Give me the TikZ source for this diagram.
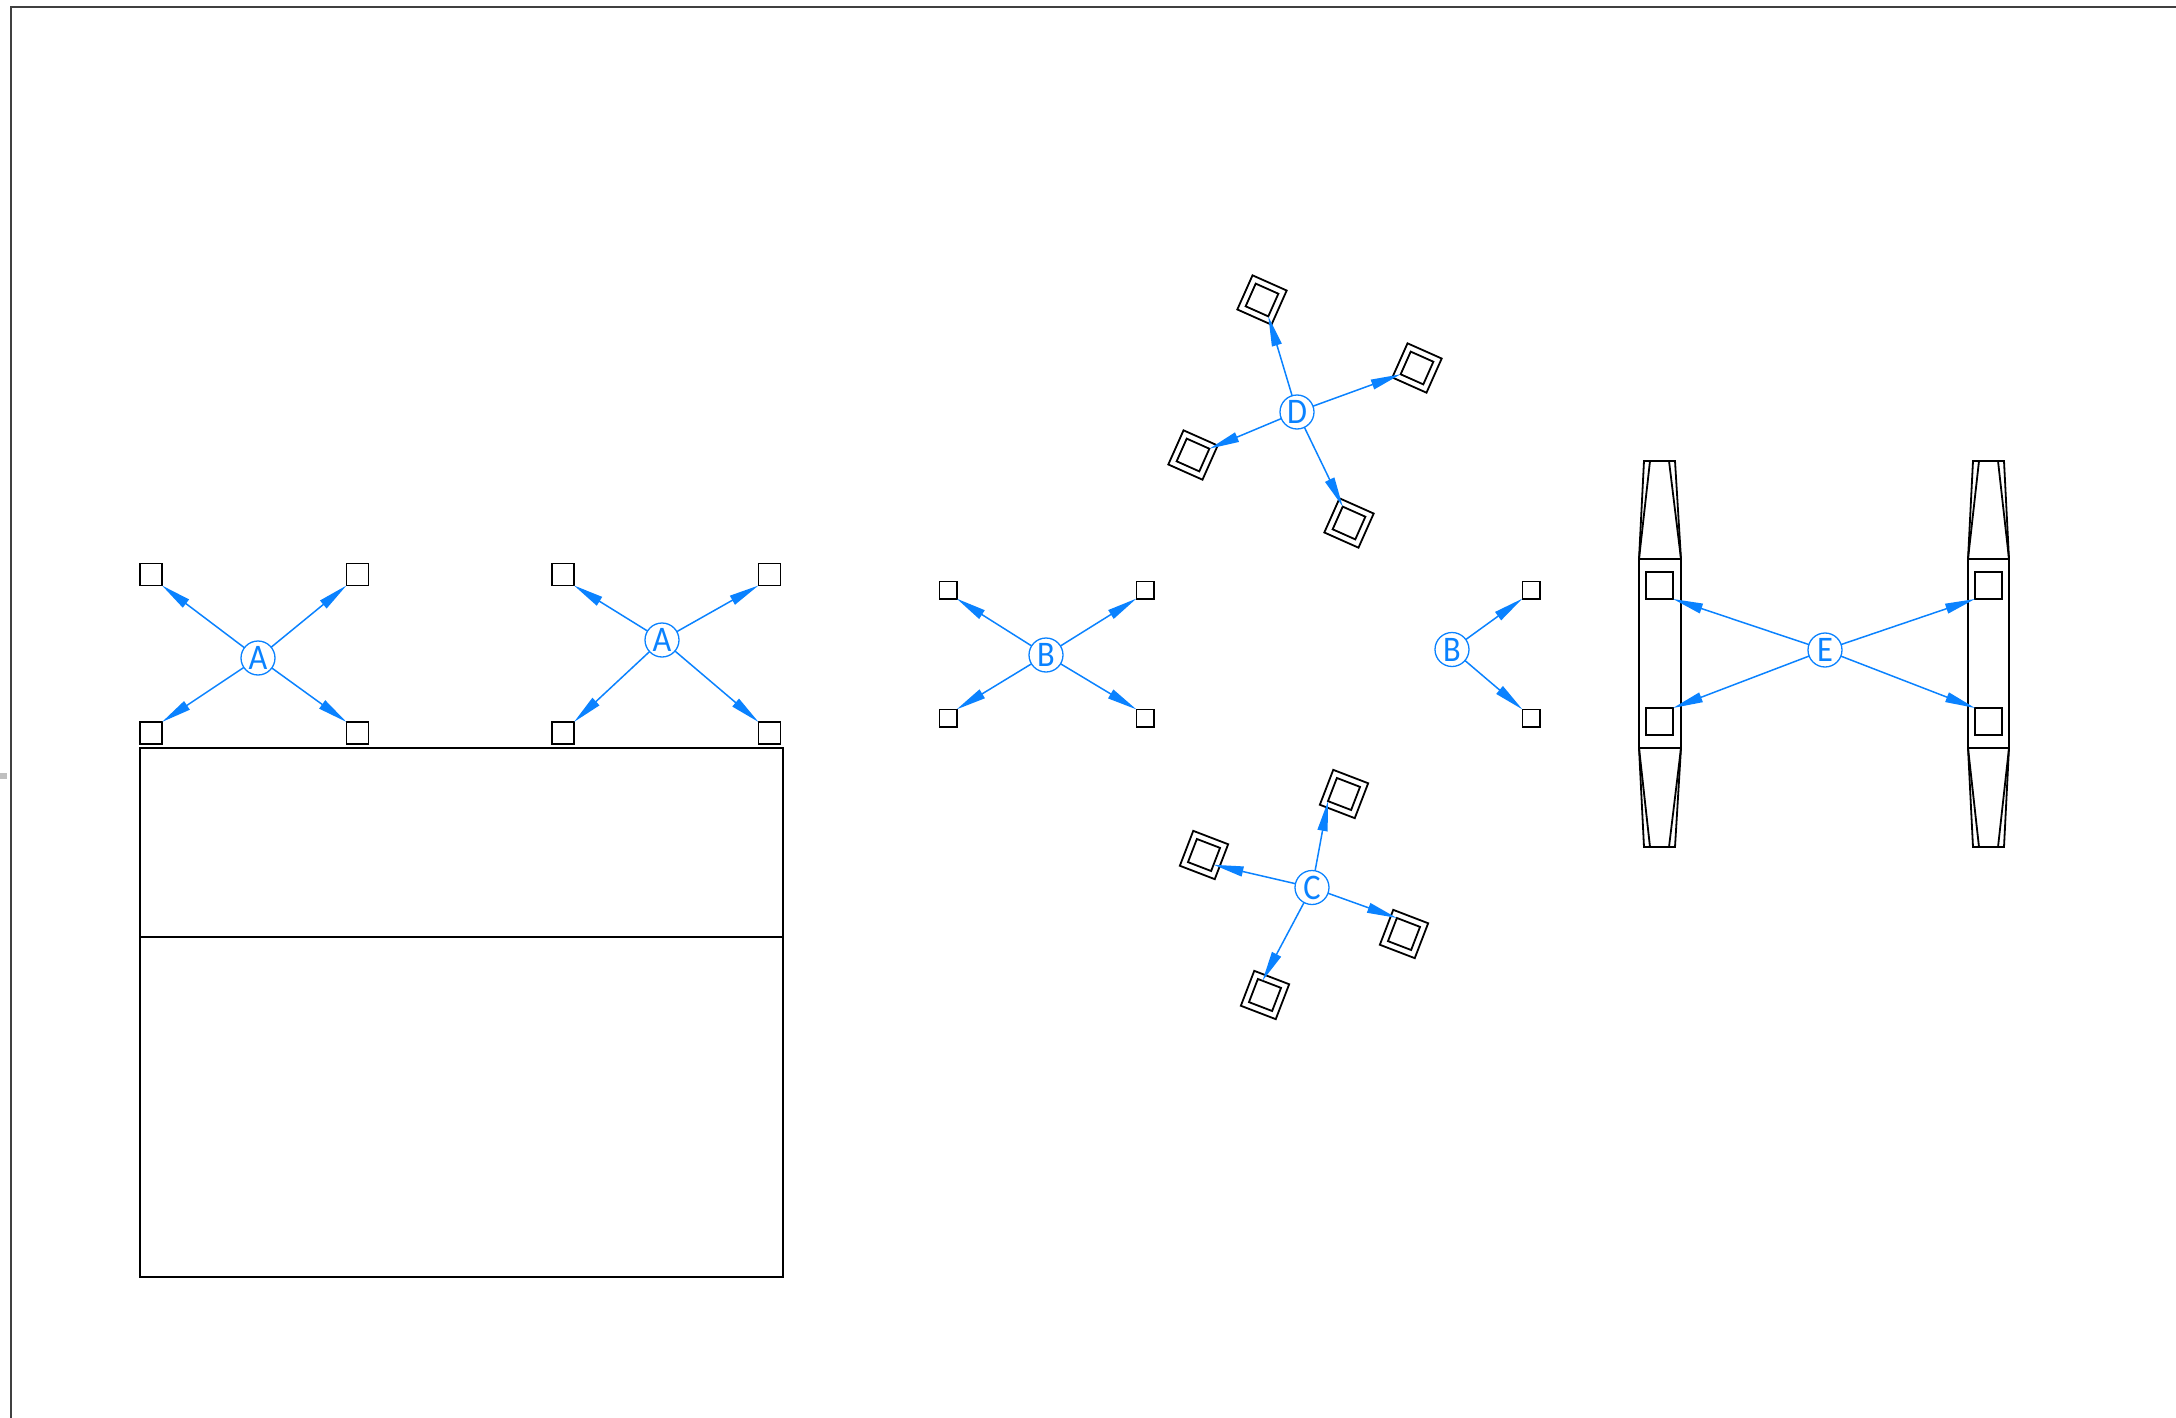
\documentclass[tikz,border=0pt]{standalone}
\usepackage{fontspec}
\newfontfamily\lblfont[FakeStretch=0.9]{Carlito}
\usetikzlibrary{arrows.meta,calc}
\definecolor{cadblue}{RGB}{10,130,255}
\tikzset{
  x=0.5pt,y=-0.5pt,
  black line/.style={draw=black,line width=0.9pt},
  hub/.style={circle,draw=cadblue,line width=0.65pt,minimum size=17pt,inner sep=0pt,outer sep=0pt,text=cadblue,font=\lblfont\fontsize{18}{18}\selectfont},
  sqbig/.style={rectangle,black line,minimum size=11pt,inner sep=0pt,outer sep=0pt},
  sqsmall/.style={rectangle,black line,minimum size=8.6pt,inner sep=0pt,outer sep=0pt},
  sqpad/.style={rectangle,black line,minimum size=13.5pt,inner sep=0pt,outer sep=0pt},
  outerrot/.style={rectangle,black line,minimum size=18.7pt,inner sep=0pt,outer sep=0pt,rotate=#1},
  innerrot/.style={rectangle,black line,minimum size=12.4pt,inner sep=0pt,outer sep=0pt,rotate=#1},
  conn/.style={draw=cadblue,line width=0.75pt,-{Triangle[length=15pt,width=5pt,fill=cadblue]}},
}
\begin{document}
\begin{tikzpicture}
\useasboundingbox (0,0) rectangle (2176,1418);
% sheet frame
\draw[draw=black!75,line width=1pt] (11,1418) -- (11,7) -- (2176,7);
\fill[black!25] (0,773) rectangle (7,779);
% large block
\draw[black line] (140,748) rectangle (783,1277);
\draw[black line] (140,937) -- (783,937);
% group A left
\node[hub] (A1) at (258,658) {A};
\node[sqbig] (a1a) at (151,574.5) {};
\node[sqbig] (a1b) at (357.5,574.5) {};
\node[sqbig] (a1c) at (151,733) {};
\node[sqbig] (a1d) at (357.5,733) {};
\draw[conn] (A1) -- (a1a.south east);
\draw[conn] (A1) -- (a1b.south west);
\draw[conn] (A1) -- (a1c.north east);
\draw[conn] (A1) -- (a1d.north west);
% group A right
\node[hub] (A2) at (662,640) {A};
\node[sqbig] (a2a) at (563,574.5) {};
\node[sqbig] (a2b) at (769.5,574.5) {};
\node[sqbig] (a2c) at (563,733) {};
\node[sqbig] (a2d) at (769.5,733) {};
\draw[conn] (A2) -- (a2a.south east);
\draw[conn] (A2) -- (a2b.south west);
\draw[conn] (A2) -- (a2c.north east);
\draw[conn] (A2) -- (a2d.north west);
% group B left
\node[hub] (B1) at (1046,655) {B};
\node[sqsmall] (b1a) at (948,590) {};
\node[sqsmall] (b1b) at (1145,590) {};
\node[sqsmall] (b1c) at (948,718) {};
\node[sqsmall] (b1d) at (1145,718) {};
\draw[conn] (B1) -- (b1a.south east);
\draw[conn] (B1) -- (b1b.south west);
\draw[conn] (B1) -- (b1c.north east);
\draw[conn] (B1) -- (b1d.north west);
% group B right
\node[hub] (B2) at (1452,649.5) {B};
\node[sqsmall] (b2a) at (1531,590) {};
\node[sqsmall] (b2b) at (1531,718) {};
\draw[conn] (B2) -- (b2a.south west);
\draw[conn] (B2) -- (b2b.north west);
% group D
\node[hub] (D) at (1297,412) {D};
\node[outerrot=-24] (d1o) at (1262,300) {};
\node[innerrot=-24] (d1i) at (1262,300) {};
\node[outerrot=-24] (d2o) at (1417,368) {};
\node[innerrot=-24] (d2i) at (1417,368) {};
\node[outerrot=-24] (d3o) at (1349,523) {};
\node[innerrot=-24] (d3i) at (1349,523) {};
\node[outerrot=-24] (d4o) at (1193,455) {};
\node[innerrot=-24] (d4i) at (1193,455) {};
\draw[conn] (D) -- (d1i.south east);
\draw[conn] (D) -- (d2i.south west);
\draw[conn] (D) -- (d3i.north west);
\draw[conn] (D) -- (d4i.north east);
% group C
\node[hub] (C) at (1312,887.5) {C};
\node[outerrot=-21] (c1o) at (1344,794) {};
\node[innerrot=-21] (c1i) at (1344,794) {};
\node[outerrot=-21] (c2o) at (1204,855) {};
\node[innerrot=-21] (c2i) at (1204,855) {};
\node[outerrot=-21] (c3o) at (1404,934) {};
\node[innerrot=-21] (c3i) at (1404,934) {};
\node[outerrot=-21] (c4o) at (1265,995) {};
\node[innerrot=-21] (c4i) at (1265,995) {};
\draw[conn] (C) -- (c1i.south west);
\draw[conn] (C) -- ($(c2i.north east)!0.73!(c2i.south east)$);
\draw[conn] (C) -- (c3i.north west);
\draw[conn] (C) -- ($(c4i.north west)!0.2!(c4i.north east)$);
% left bogie
\draw[black line] (1639,559) rectangle (1681,748);
\draw[black line] (1639,559) -- (1644,461) -- (1675,461) -- (1681,559);
\draw[black line] (1639,559) -- (1650,461);
\draw[black line] (1669,461) -- (1681,559);
\draw[black line] (1639,748) -- (1644,847) -- (1675,847) -- (1681,748);
\draw[black line] (1639,748) -- (1650,847);
\draw[black line] (1669,847) -- (1681,748);
% right bogie
\draw[black line] (1968,559) rectangle (2009,748);
\draw[black line] (1968,559) -- (1973,461) -- (2004,461) -- (2009,559);
\draw[black line] (1968,559) -- (1979,461);
\draw[black line] (1998,461) -- (2009,559);
\draw[black line] (1968,748) -- (1973,847) -- (2004,847) -- (2009,748);
\draw[black line] (1968,748) -- (1979,847);
\draw[black line] (1998,847) -- (2009,748);
% group E
\node[hub] (E) at (1825,650) {E};
\node[sqpad] (e1) at (1659.5,585.5) {};
\node[sqpad] (e2) at (1659.5,721.5) {};
\node[sqpad] (e3) at (1988.5,585.5) {};
\node[sqpad] (e4) at (1988.5,721.5) {};
\draw[conn] (E) -- (e1.south east);
\draw[conn] (E) -- (e2.north east);
\draw[conn] (E) -- (e3.south west);
\draw[conn] (E) -- (e4.north west);
\end{tikzpicture}
\end{document}
